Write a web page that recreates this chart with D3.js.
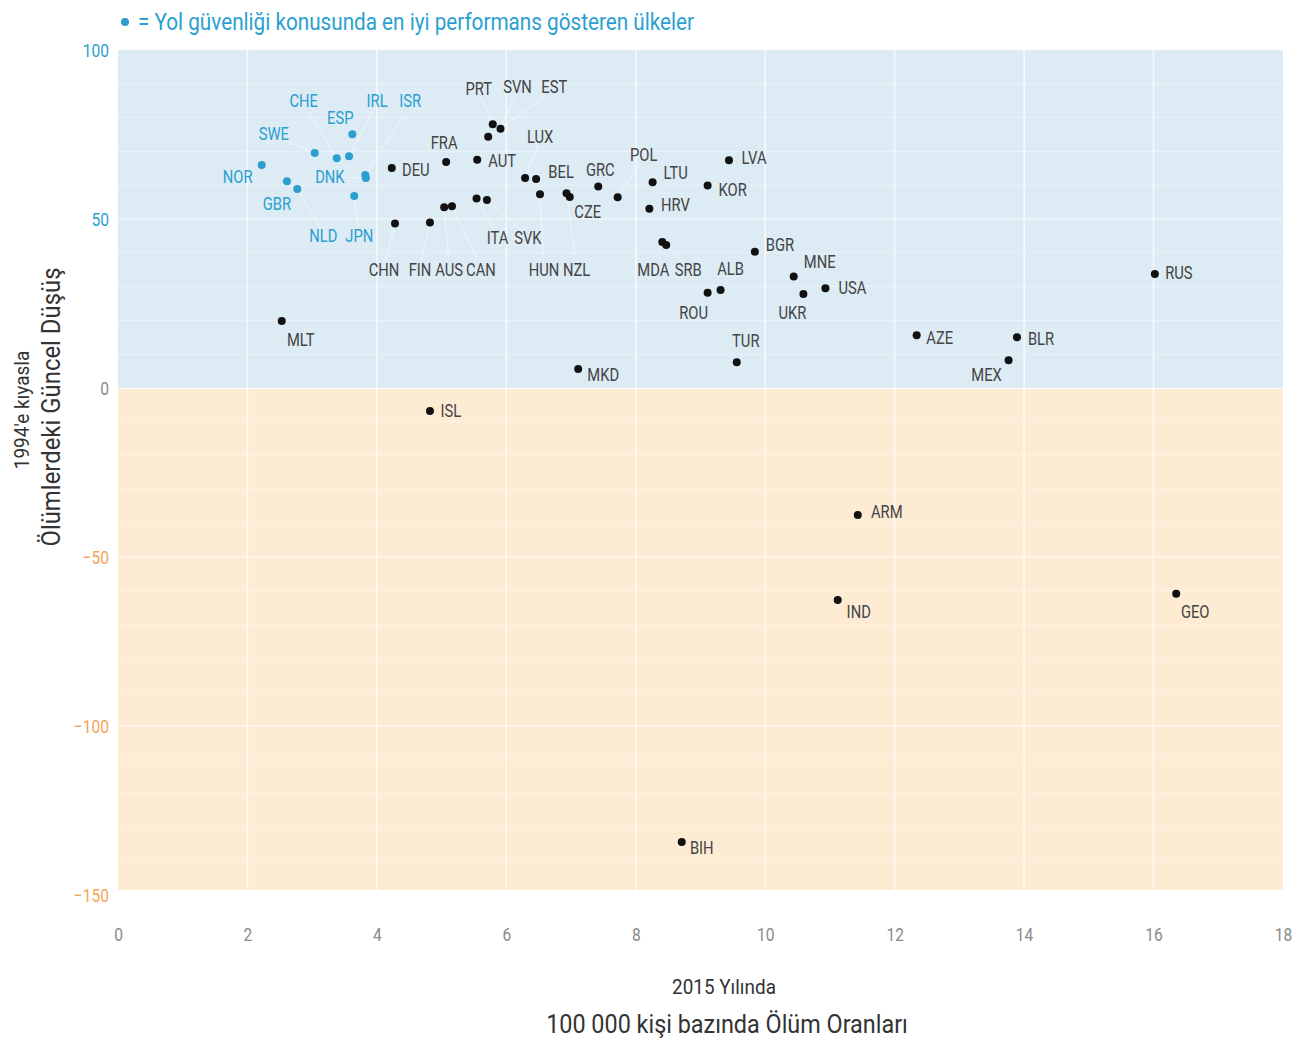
<!DOCTYPE html>
<html>
<head>
<meta charset="utf-8">
<script src="https://cdn.jsdelivr.net/npm/d3@7"></script>
<style>
  html, body { margin: 0; padding: 0; background: #ffffff; }
  svg text { font-family: "Roboto", "Liberation Sans", "DejaVu Sans", sans-serif; }
</style>
</head>
<body>
<svg id="chart" width="1302" height="1042"></svg>
<script>
// ---------- DATA ----------
const countries = ["NOR","SWE","CHE","IRL","ESP","ISR","DNK","GBR","NLD","JPN",
  "DEU","FRA","AUT","PRT","SVN","EST","LUX","BEL","HUN","CZE","NZL","GRC","POL","ITA","SVK",
  "AUS","CAN","CHN","FIN","LTU","HRV","KOR","LVA","MDA","SRB","BGR","ROU","ALB","MNE","UKR",
  "USA","TUR","AZE","BLR","MEX","RUS","MLT","MKD","ISL","ARM","IND","GEO","BIH"];
// 2015 deaths per 100 000 people
const deathRates = [2.22,3.04,3.38,3.57,3.62,3.82,3.83,2.61,2.77,3.65,
  4.23,5.07,5.55,5.79,5.91,5.72,6.29,6.46,6.52,6.98,6.93,7.42,7.72,5.54,5.70,
  5.04,5.16,4.28,4.82,8.26,8.21,9.11,9.44,8.41,8.47,9.84,9.11,9.31,10.44,10.59,
  10.93,9.56,12.34,13.89,13.76,16.02,2.53,7.11,4.82,11.43,11.12,16.35,8.71];
// current decline in deaths compared with 1994 (%)
const declines = [66.0,69.5,68.0,68.6,75.1,63.0,62.1,61.2,58.9,56.8,
  65.1,66.9,67.5,78.0,76.7,74.3,62.1,61.8,57.3,56.5,57.6,59.6,56.4,56.1,55.6,
  53.5,53.8,48.7,49.0,60.9,53.0,59.9,67.4,43.2,42.3,40.3,28.2,29.0,33.0,27.8,
  29.5,7.6,15.6,15.0,8.2,33.7,19.8,5.6,-6.8,-37.6,-62.7,-60.9,-134.3];
const bestPerformers = ["NOR","SWE","CHE","IRL","ESP","ISR","DNK","GBR","NLD","JPN"];
const xTicks = [0,2,4,6,8,10,12,14,16,18];
const yTicks = [100,50,0,-50,-100,-150];

// label placement (layout only, pixel offsets from the dot)
const labelOffsets = {
  NOR:[-24,12], SWE:[-41,-19], CHE:[-33,-57], IRL:[28,-55], ESP:[-12,-16], ISR:[45,-74],
  DNK:[-36,-1], GBR:[-10,23], NLD:[26,47], JPN:[5,40],
  DEU:[24,2], FRA:[-2,-19], AUT:[25,1], PRT:[-14,-35], SVN:[17,-42], EST:[66,-50],
  LUX:[15,-41], BEL:[25,-7], GRC:[2,-17], CZE:[18,15], POL:[26,-42], LTU:[23,-9],
  HRV:[26,-4], KOR:[25,4], LVA:[25,-2], ITA:[21,40], SVK:[41,38], CHN:[-11,47],
  FIN:[-10,48], AUS:[5,63], CAN:[29,64], HUN:[4,76], NZL:[10,77], MDA:[-9,28],
  SRB:[22,25], ALB:[10,-21], BGR:[25,-7], ROU:[-14,20], MNE:[26,-14], USA:[27,0],
  UKR:[-11,19], TUR:[9,-21], AZE:[23,3], BLR:[24,2], MEX:[-22,15], RUS:[24,-1],
  MLT:[19,19], MKD:[25,6], ISL:[21,0], ARM:[29,-3], IND:[21,12], GEO:[19,18], BIH:[20,6]
};

// ---------- LAYOUT ----------
const svg = d3.select("#chart");
const mLeft = 118, mRight = 1283, mTop = 50, mBottom = 895;
const x = d3.scaleLinear().domain([0, 18]).range([mLeft, mRight]);
const y = d3.scaleLinear().domain([-150, 100]).range([mBottom, mTop]);

const blue = "#2a9fd0", orange = "#f5a35a", grey = "#8a8a8a";
const narrow = 0.82;

// background bands
svg.append("rect").attr("x", x(0)).attr("y", y(100)).attr("width", x(18)-x(0))
  .attr("height", y(0)-y(100)).attr("fill", "#dcebf4");
svg.append("rect").attr("x", x(0)).attr("y", y(0)+1).attr("width", x(18)-x(0))
  .attr("height", y(-150)-y(0)-6).attr("fill", "#fdebd4");

// gridlines
const grid = svg.append("g");
grid.selectAll("line.h").data(d3.range(-140, 100, 10).filter(v => v !== 0)).enter().append("line")
  .attr("x1", x(0)).attr("x2", x(18)).attr("y1", d => y(d)).attr("y2", d => y(d))
  .attr("stroke", "#ffffff").attr("stroke-opacity", d => d % 50 === 0 ? 0.85 : 0.4).attr("stroke-width", 1);
grid.selectAll("line.v").data(xTicks.slice(1, -1)).enter().append("line")
  .attr("x1", d => x(d)).attr("x2", d => x(d)).attr("y1", y(100)).attr("y2", y(-150)-5)
  .attr("stroke", "#ffffff").attr("stroke-opacity", 0.75).attr("stroke-width", 1.5);

// axes
const xAxis = svg.append("g").attr("transform", `translate(0, 934)`)
  .call(d3.axisBottom(x).tickValues(xTicks).tickSize(0).tickFormat(d3.format("d")));
xAxis.select(".domain").remove();
xAxis.selectAll("text").attr("dy", "0.35em").attr("y", 0).attr("fill", grey)
  .attr("font-size", 19).attr("transform", `scale(${narrow},1)`)
  .style("font-family", '"Roboto", sans-serif');

const yAxis = svg.append("g").attr("transform", `translate(109, 0)`)
  .call(d3.axisLeft(y).tickValues(yTicks).tickSize(0).tickFormat(d3.format("d")));
yAxis.select(".domain").remove();
yAxis.selectAll("text").attr("x", 0).attr("font-size", 19)
  .attr("transform", `scale(${narrow},1)`)
  .style("font-family", '"Roboto", sans-serif')
  .attr("fill", d => d > 0 ? blue : (d < 0 ? orange : grey));

// data
const data = countries.map((c, i) => ({code: c, rate: deathRates[i], decline: declines[i],
  best: bestPerformers.includes(c)}));

// leader lines
svg.append("g").selectAll("line").data(data.filter(d => {
    const o = labelOffsets[d.code]; return Math.hypot(o[0], o[1]) > 32;
  })).enter().append("line")
  .attr("x1", d => x(d.rate)).attr("y1", d => y(d.decline))
  .attr("x2", d => x(d.rate) + labelOffsets[d.code][0] * 0.85)
  .attr("y2", d => y(d.decline) + labelOffsets[d.code][1] * 0.8)
  .attr("stroke", "#ffffff").attr("stroke-opacity", 0.55).attr("stroke-width", 1);

// dots
svg.append("g").selectAll("circle").data(data).enter().append("circle")
  .attr("cx", d => x(d.rate)).attr("cy", d => y(d.decline)).attr("r", 4)
  .attr("fill", d => d.best ? blue : "#111111");

// labels
svg.append("g").selectAll("text").data(data).enter().append("text")
  .attr("transform", d => `translate(${x(d.rate) + labelOffsets[d.code][0]},${y(d.decline) + labelOffsets[d.code][1]}) scale(${narrow},1)`)
  .attr("text-anchor", "middle").attr("dominant-baseline", "central")
  .attr("font-size", 18)
  .attr("fill", d => d.best ? blue : "#444444")
  .text(d => d.code);

// legend / title
const leg = svg.append("g");
leg.append("circle").attr("cx", 125).attr("cy", 22).attr("r", 4).attr("fill", blue);
leg.append("text").attr("transform", "translate(138,22) scale(0.9,1)").attr("dominant-baseline", "central")
  .attr("font-size", 23).attr("fill", blue)
  .text("= Yol güvenliği konusunda en iyi performans gösteren ülkeler");

// axis titles
svg.append("text").attr("transform", "translate(724,987) scale(0.9,1)").attr("text-anchor", "middle")
  .attr("dominant-baseline", "central").attr("font-size", 21).attr("fill", "#333")
  .text("2015 Yılında");
svg.append("text").attr("transform", "translate(727,1024) scale(0.9,1)").attr("text-anchor", "middle")
  .attr("dominant-baseline", "central").attr("font-size", 26).attr("fill", "#333")
  .text("100 000 kişi bazında Ölüm Oranları");
svg.append("text").attr("transform", "translate(22,410) rotate(-90) scale(0.95,1)").attr("text-anchor", "middle")
  .attr("dominant-baseline", "central").attr("font-size", 20).attr("fill", "#333")
  .text("1994'e kıyasla");
svg.append("text").attr("transform", "translate(51,407) rotate(-90) scale(0.92,1)").attr("text-anchor", "middle")
  .attr("dominant-baseline", "central").attr("font-size", 26).attr("fill", "#333")
  .text("Ölümlerdeki Güncel Düşüş");
</script>
</body>
</html>
